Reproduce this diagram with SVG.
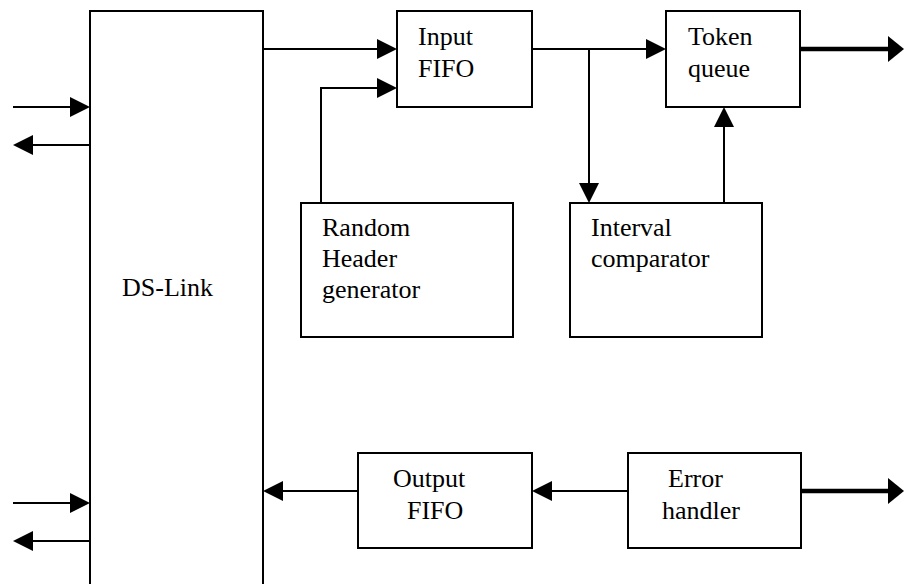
<svg xmlns="http://www.w3.org/2000/svg" width="904" height="584" viewBox="0 0 904 584">
<style>
.box{fill:#fff;stroke:#000;stroke-width:2}
.ln{fill:none;stroke:#000;stroke-width:2}
.thk{fill:none;stroke:#000;stroke-width:4.5}
.t{font-size:26px;fill:#000}
</style>
<defs>
<marker id="ah" markerUnits="userSpaceOnUse" markerWidth="20" markerHeight="20" refX="10" refY="10" orient="auto" viewBox="0 0 20 20">
<path d="M0,0 L20,10 L0,20 Z" fill="#000"/>
</marker>
<marker id="ahT" markerUnits="userSpaceOnUse" markerWidth="16" markerHeight="26" refX="6" refY="13" orient="auto" viewBox="0 0 16 26">
<path d="M0,0 L16,13 L0,26 Z" fill="#000"/>
</marker>
</defs>
<rect width="904" height="584" fill="#fff"/>
<g font-family="'Liberation Serif', 'Times New Roman', 'DejaVu Serif', serif">
<g id="ds-link">
<rect class="box" x="90" y="11" width="173" height="600"/>
<text class="t" x="122" y="296">DS-Link</text>
</g>
<g id="input-fifo">
<rect class="box" x="397" y="11" width="135" height="96"/>
<text class="t" x="418" y="45">Input</text>
<text class="t" x="418" y="77">FIFO</text>
</g>
<g id="token-queue">
<rect class="box" x="666" y="11" width="134" height="96"/>
<text class="t" x="688" y="45">Token</text>
<text class="t" x="688" y="77">queue</text>
</g>
<g id="random-header-generator">
<rect class="box" x="301" y="203" width="212" height="134"/>
<text class="t" x="322" y="236">Random</text>
<text class="t" x="322" y="267">Header</text>
<text class="t" x="322" y="298">generator</text>
</g>
<g id="interval-comparator">
<rect class="box" x="570" y="203" width="192" height="134"/>
<text class="t" x="591" y="236">Interval</text>
<text class="t" x="591" y="267">comparator</text>
</g>
<g id="output-fifo">
<rect class="box" x="358" y="453" width="174" height="95"/>
<text class="t" x="393" y="487">Output</text>
<text class="t" x="407" y="519">FIFO</text>
</g>
<g id="error-handler">
<rect class="box" x="628" y="453" width="173" height="95"/>
<text class="t" x="668" y="487">Error</text>
<text class="t" x="662" y="519">handler</text>
</g>
</g>
<g id="connectors">
<path class="ln" d="M13,107 H80" marker-end="url(#ah)"/>
<path class="ln" d="M90,145 H23" marker-end="url(#ah)"/>
<path class="ln" d="M13,503 H80" marker-end="url(#ah)"/>
<path class="ln" d="M90,541 H23" marker-end="url(#ah)"/>
<path class="ln" d="M263,49 H387" marker-end="url(#ah)"/>
<path class="ln" d="M321,203 V88 H387" marker-end="url(#ah)"/>
<path class="ln" d="M532,49 H656" marker-end="url(#ah)"/>
<path class="ln" d="M589,49 V193" marker-end="url(#ah)"/>
<path class="ln" d="M724,203 V117" marker-end="url(#ah)"/>
<path class="thk" d="M800,49 H894" marker-end="url(#ahT)"/>
<path class="ln" d="M628,491 H542" marker-end="url(#ah)"/>
<path class="ln" d="M358,491 H273" marker-end="url(#ah)"/>
<path class="thk" d="M801,491 H894" marker-end="url(#ahT)"/>
</g>
</svg>
